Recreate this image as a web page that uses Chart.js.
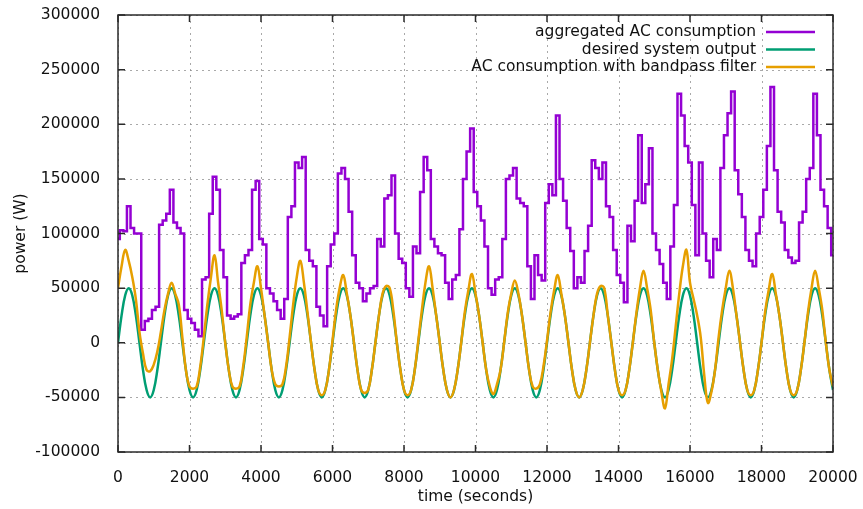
<!DOCTYPE html>
<html>
<head>
<meta charset="utf-8">
<script src="https://cdn.jsdelivr.net/npm/chart.js@4.4.1/dist/chart.umd.min.js"></script>
<style>
  html, body { margin: 0; padding: 0; background: #fff; }
  #wrap { width: 863px; height: 509px; }
</style>
</head>
<body>
<div id="wrap"><canvas id="chartPower" width="863" height="509"></canvas></div>
<script>
// tiempo de muestreo (segundos), cada 100 s
const timeSec = [
  0,100,200,300,400,500,600,700,800,900,
  1000,1100,1200,1300,1400,1500,1600,1700,1800,1900,
  2000,2100,2200,2300,2400,2500,2600,2700,2800,2900,
  3000,3100,3200,3300,3400,3500,3600,3700,3800,3900,
  4000,4100,4200,4300,4400,4500,4600,4700,4800,4900,
  5000,5100,5200,5300,5400,5500,5600,5700,5800,5900,
  6000,6100,6200,6300,6400,6500,6600,6700,6800,6900,
  7000,7100,7200,7300,7400,7500,7600,7700,7800,7900,
  8000,8100,8200,8300,8400,8500,8600,8700,8800,8900,
  9000,9100,9200,9300,9400,9500,9600,9700,9800,9900,
  10000,10100,10200,10300,10400,10500,10600,10700,10800,10900,
  11000,11100,11200,11300,11400,11500,11600,11700,11800,11900,
  12000,12100,12200,12300,12400,12500,12600,12700,12800,12900,
  13000,13100,13200,13300,13400,13500,13600,13700,13800,13900,
  14000,14100,14200,14300,14400,14500,14600,14700,14800,14900,
  15000,15100,15200,15300,15400,15500,15600,15700,15800,15900,
  16000,16100,16200,16300,16400,16500,16600,16700,16800,16900,
  17000,17100,17200,17300,17400,17500,17600,17700,17800,17900,
  18000,18100,18200,18300,18400,18500,18600,18700,18800,18900,
  19000,19100,19200,19300,19400,19500,19600,19700,19800,19900,
  20000
];

// aggregated AC consumption (W)
const aggregatedAC = [
  95000,103000,102000,125000,105000,100000,100000,12000,20000,22000,
  30000,33000,108000,112000,118000,140000,110000,105000,100000,30000,
  22000,18000,12000,6000,58000,60000,118000,152000,140000,85000,
  60000,25000,22000,24000,26000,73000,80000,85000,140000,148000,
  95000,90000,50000,45000,38000,30000,22000,40000,115000,125000,
  165000,160000,170000,85000,75000,70000,33000,25000,15000,70000,
  90000,100000,155000,160000,150000,120000,80000,55000,50000,38000,
  45000,50000,52000,95000,88000,132000,135000,153000,100000,77000,
  73000,50000,42000,88000,82000,138000,170000,158000,95000,88000,
  82000,80000,55000,40000,58000,62000,104000,150000,175000,196000,
  138000,125000,112000,88000,50000,44000,58000,60000,95000,150000,
  153000,160000,132000,128000,125000,70000,40000,80000,62000,57000,
  128000,145000,135000,208000,150000,130000,105000,84000,50000,60000,
  55000,84000,107000,167000,160000,150000,165000,125000,115000,85000,
  62000,55000,37000,107000,93000,130000,190000,128000,145000,178000,
  100000,85000,72000,55000,40000,88000,126000,228000,208000,180000,
  165000,126000,80000,165000,100000,75000,60000,95000,85000,160000,
  190000,210000,230000,158000,136000,115000,85000,75000,70000,100000,
  115000,140000,180000,234000,158000,120000,110000,85000,78000,73000,
  75000,110000,120000,150000,160000,228000,190000,140000,125000,105000,
  80000
];

// desired system output (W)
const desiredOutput = [
  0,25000,43300,50000,43300,25000,0,-25000,-43300,-50000,-43300,-25000,
  0,25000,43300,50000,43300,25000,0,-25000,-43300,-50000,-43300,-25000,
  0,25000,43300,50000,43300,25000,0,-25000,-43300,-50000,-43300,-25000,
  0,25000,43300,50000,43300,25000,0,-25000,-43300,-50000,-43300,-25000,
  0,25000,43300,50000,43300,25000,0,-25000,-43300,-50000,-43300,-25000,
  0,25000,43300,50000,43300,25000,0,-25000,-43300,-50000,-43300,-25000,
  0,25000,43300,50000,43300,25000,0,-25000,-43300,-50000,-43300,-25000,
  0,25000,43300,50000,43300,25000,0,-25000,-43300,-50000,-43300,-25000,
  0,25000,43300,50000,43300,25000,0,-25000,-43300,-50000,-43300,-25000,
  0,25000,43300,50000,43300,25000,0,-25000,-43300,-50000,-43300,-25000,
  0,25000,43300,50000,43300,25000,0,-25000,-43300,-50000,-43300,-25000,
  0,25000,43300,50000,43300,25000,0,-25000,-43300,-50000,-43300,-25000,
  0,25000,43300,50000,43300,25000,0,-25000,-43300,-50000,-43300,-25000,
  0,25000,43300,50000,43300,25000,0,-25000,-43300,-50000,-43300,-25000,
  0,25000,43300,50000,43300,25000,0,-25000,-43300,-50000,-43300,-25000,
  0,25000,43300,50000,43300,25000,0,-25000,-43300,-50000,-43300,-25000,
  0,25000,43300,50000,43300,25000,0,-25000,-43300
];

// AC consumption with bandpass filter (W)
const bandpassAC = [
  50000,70000,85000,75000,60000,40000,10000,-10000,-25000,-26000,-20000,-8000,
  10000,30000,45000,55000,45000,35000,5000,-25000,-40000,-42000,-40000,-22000,
  5000,35000,60000,80000,55000,30000,0,-25000,-40000,-42000,-40000,-22000,
  5000,35000,55000,70000,50000,25000,0,-25000,-38000,-40000,-38000,-22000,
  5000,35000,60000,75000,55000,28000,0,-25000,-43000,-48000,-43000,-25000,
  2000,30000,50000,62000,45000,25000,0,-25000,-43000,-46000,-43000,-25000,
  0,25000,45000,52000,50000,30000,0,-25000,-43000,-48000,-43000,-25000,
  2000,30000,55000,70000,50000,25000,0,-25000,-43000,-50000,-43000,-25000,
  0,28000,48000,63000,45000,25000,0,-25000,-40000,-47000,-38000,-25000,
  0,27000,45000,57000,45000,25000,0,-25000,-40000,-42000,-38000,-22000,
  2000,28000,48000,62000,45000,25000,0,-25000,-43000,-50000,-43000,-25000,
  0,25000,45000,52000,50000,25000,0,-25000,-43000,-48000,-43000,-25000,
  0,27000,50000,66000,50000,30000,0,-25000,-45000,-60000,-38000,-15000,
  15000,45000,70000,85000,55000,40000,25000,5000,-30000,-55000,-45000,-25000,
  5000,30000,50000,66000,50000,25000,0,-25000,-43000,-48000,-43000,-25000,
  0,28000,48000,63000,45000,25000,0,-25000,-43000,-48000,-43000,-25000,
  0,28000,50000,66000,50000,30000,0,-25000,-40000
];

const seriesNames = ['aggregated AC consumption', 'desired system output', 'AC consumption with bandpass filter'];
const seriesColors = ['#9400d3', '#009e73', '#e69f00'];

const FONT = 'DejaVu Sans';

// rejilla punteada, marco y marcas hacia dentro (estilo gnuplot)
const gnuplotFrame = {
  id: 'gnuplotFrame',
  beforeDatasetsDraw(chart) {
    const ctx = chart.ctx;
    const a = chart.chartArea;
    const xs = chart.scales.x, ys = chart.scales.y;
    ctx.save();
    ctx.strokeStyle = 'rgba(140,140,140,0.75)';
    ctx.lineWidth = 1;
    ctx.setLineDash([2, 4]);
    xs.ticks.forEach(t => {
      const px = Math.round(xs.getPixelForValue(t.value)) + 0.5;
      ctx.beginPath(); ctx.moveTo(px, a.top); ctx.lineTo(px, a.bottom); ctx.stroke();
    });
    ys.ticks.forEach(t => {
      const py = Math.round(ys.getPixelForValue(t.value)) + 0.5;
      ctx.beginPath(); ctx.moveTo(a.left, py); ctx.lineTo(a.right, py); ctx.stroke();
    });
    ctx.restore();
  },
  afterDatasetsDraw(chart) {
    const ctx = chart.ctx;
    const a = chart.chartArea;
    const xs = chart.scales.x, ys = chart.scales.y;
    const tl = 7;
    ctx.save();
    ctx.strokeStyle = '#2a2a2a';
    ctx.lineWidth = 1.5;
    xs.ticks.forEach(t => {
      const px = xs.getPixelForValue(t.value);
      ctx.beginPath();
      ctx.moveTo(px, a.bottom); ctx.lineTo(px, a.bottom - tl);
      ctx.moveTo(px, a.top); ctx.lineTo(px, a.top + tl);
      ctx.stroke();
    });
    ys.ticks.forEach(t => {
      const py = ys.getPixelForValue(t.value);
      ctx.beginPath();
      ctx.moveTo(a.left, py); ctx.lineTo(a.left + tl, py);
      ctx.moveTo(a.right, py); ctx.lineTo(a.right - tl, py);
      ctx.stroke();
    });
    ctx.strokeRect(a.left, a.top, a.right - a.left, a.bottom - a.top);

    // leyenda: texto alineado a la derecha y muestra de línea
    ctx.font = '15.5px "' + FONT + '"';
    ctx.textAlign = 'right';
    ctx.textBaseline = 'middle';
    const rowY = [a.top + 17, a.top + 34.5, a.top + 52];
    seriesNames.forEach((name, i) => {
      ctx.fillStyle = '#111';
      ctx.fillText(name, a.right - 77, rowY[i]);
      ctx.strokeStyle = seriesColors[i];
      ctx.lineWidth = 2.5;
      ctx.beginPath();
      ctx.moveTo(a.right - 67, rowY[i]);
      ctx.lineTo(a.right - 18, rowY[i]);
      ctx.stroke();
    });
    ctx.restore();
  }
};

function drawPowerChart() {
  const ctx = document.getElementById('chartPower').getContext('2d');

  new Chart(ctx, {
    type: 'line',
    data: {
      labels: timeSec,
      datasets: [
        {
          label: seriesNames[0],
          data: aggregatedAC,
          borderColor: seriesColors[0],
          borderWidth: 2.5,
          pointRadius: 0,
          tension: 0,
          stepped: 'middle',
          order: 3
        },
        {
          label: seriesNames[1],
          data: desiredOutput,
          borderColor: seriesColors[1],
          borderWidth: 2.5,
          pointRadius: 0,
          tension: 0.4,
          order: 2
        },
        {
          label: seriesNames[2],
          data: bandpassAC,
          borderColor: seriesColors[2],
          borderWidth: 2.5,
          pointRadius: 0,
          tension: 0.4,
          order: 1
        }
      ]
    },
    options: {
      responsive: false,
      animation: false,
      layout: { padding: { top: 15, right: 30, left: 0, bottom: 0 } },
      plugins: {
        legend: { display: false },
        tooltip: { enabled: false }
      },
      scales: {
        x: {
          type: 'linear',
          min: 0,
          max: 20000,
          grid: { display: false },
          border: { display: false },
          ticks: {
            stepSize: 2000,
            padding: 9,
            maxRotation: 0,
            color: '#111',
            font: { family: FONT, size: 15.5 },
            callback: function(value) { return String(value); }
          },
          title: {
            display: true,
            text: 'time (seconds)',
            color: '#111',
            font: { family: FONT, size: 15.5 },
            padding: { top: 0, bottom: 3 }
          },
          afterFit: function(scale) {
            scale.height = 57;
            scale.paddingLeft = 0;
            scale.paddingRight = 0;
          }
        },
        y: {
          min: -100000,
          max: 300000,
          grid: { display: false },
          border: { display: false },
          ticks: {
            stepSize: 50000,
            padding: 10,
            color: '#111',
            font: { family: FONT, size: 15.5 },
            callback: function(value) { return String(value); }
          },
          title: {
            display: true,
            text: 'power (W)',
            color: '#111',
            font: { family: FONT, size: 15.5 },
            padding: { top: 12, bottom: 0 }
          },
          afterFit: function(scale) {
            scale.width = 118;
            scale.paddingTop = 0;
            scale.paddingBottom = 0;
          }
        }
      }
    },
    plugins: [gnuplotFrame]
  });
}

document.addEventListener('DOMContentLoaded', function() {
  drawPowerChart();
});
</script>
</body>
</html>
